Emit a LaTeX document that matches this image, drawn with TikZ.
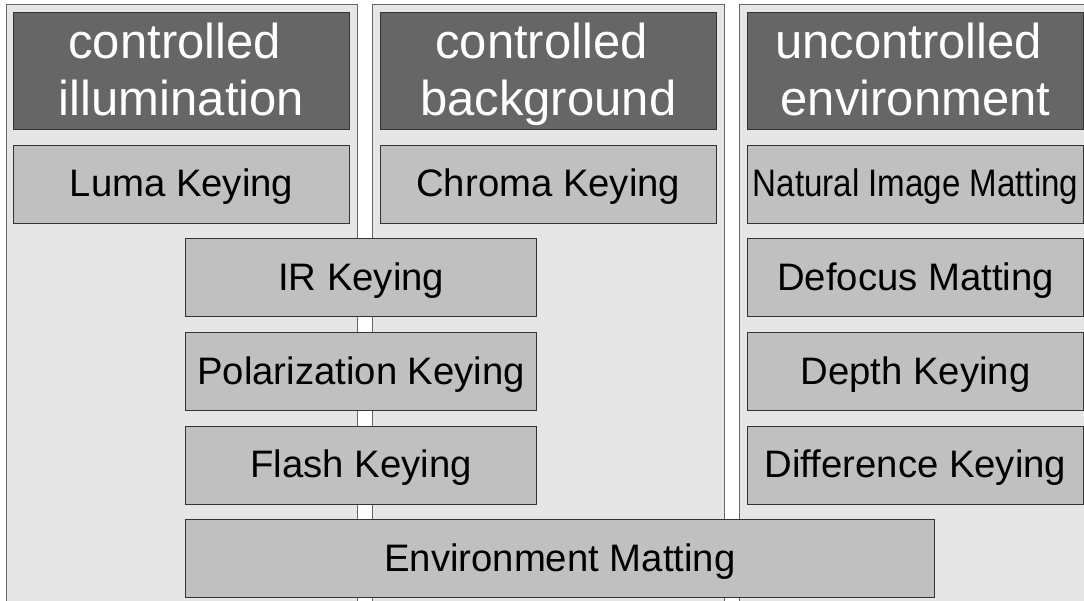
\documentclass[tikz,border=0pt]{standalone}
\usepackage{fontspec}
\setmainfont{Liberation Sans}
\definecolor{panelfill}{HTML}{E6E6E6}
\definecolor{panelline}{HTML}{666666}
\definecolor{headfill}{HTML}{666666}
\definecolor{boxfill}{HTML}{C0C0C0}
\definecolor{boxline}{HTML}{333333}
\newcommand{\trsp}{\makebox[0.278em]{}}
\tikzset{
  panel/.style={draw=panelline, fill=panelfill, line width=1pt},
  headbox/.style={draw=boxline, fill=headfill, line width=1pt, text=white,
    minimum width=336.4pt, minimum height=117pt, inner sep=0pt, outer sep=0pt,
    align=center, font=\fontsize{49}{57}\selectfont},
  headtext/.style={yshift=-5.3pt},
  keybox/.style={draw=boxline, fill=boxfill, line width=1pt, text=black,
    minimum height=78pt, inner sep=0pt, outer sep=0pt,
    text height=30pt, text depth=5.2pt,
    font=\fontsize{38.3}{42}\selectfont},
}
\begin{document}
\begin{tikzpicture}[x=1pt,y=-1pt]
\useasboundingbox (0,0) rectangle (1084,601);
\clip (0,0) rectangle (1084,601);
\fill[white] (0,0) rectangle (1084,601);
% panels
\path[panel] (6,4.7) rectangle (357,640);
\path[panel] (372.7,4.7) rectangle (724,640);
\path[panel] (739,4.7) rectangle (1100,640);
% headers
\node[headbox] (h1) at (181.5,70.8) {};
\node[headbox] (h2) at (548.3,70.8) {};
\node[headbox, minimum width=335.6pt] (h3) at (915.5,70.8) {};
\node[headbox, draw=none, fill=none, minimum width=0pt, minimum height=0pt, headtext] (t1) at (h1.center) {\strut controlled\trsp\\\strut illumination};
\node[headbox, draw=none, fill=none, minimum width=0pt, minimum height=0pt, headtext] (t2) at (h2.center) {\strut controlled\trsp\\\strut background};
\node[headbox, draw=none, fill=none, minimum width=0pt, minimum height=0pt, headtext] (t3) at (h3.center) {\strut uncontrolled\trsp\\\strut environment};
% row 1
\node[keybox, minimum width=336.4pt] (luma) at (181.5,184.3) {Luma Keying};
\node[keybox, minimum width=336.4pt] (chroma) at (548.3,184.3) {Chroma Keying};
\node[keybox, minimum width=335.6pt] (nim) at (915.5,184.3) {\scalebox{0.864}[1]{Natural Image Matting}};
% middle column
\node[keybox, minimum width=351pt] (ir) at (361.2,277.9) {IR Keying};
\node[keybox, minimum width=351pt] (pol) at (361.2,371.7) {Polarization Keying};
\node[keybox, minimum width=351pt] (flash) at (361.2,465.3) {Flash Keying};
% right column
\node[keybox, minimum width=335.6pt] (defocus) at (915.5,277.9) {Defocus Matting};
\node[keybox, minimum width=335.6pt] (depth) at (915.5,371.7) {Depth Keying};
\node[keybox, minimum width=335.6pt] (diff) at (915.5,465.3) {Difference Keying};
% bottom
\node[keybox, minimum width=748.3pt] (env) at (559.85,558.7) {Environment Matting};
\end{tikzpicture}
\end{document}
